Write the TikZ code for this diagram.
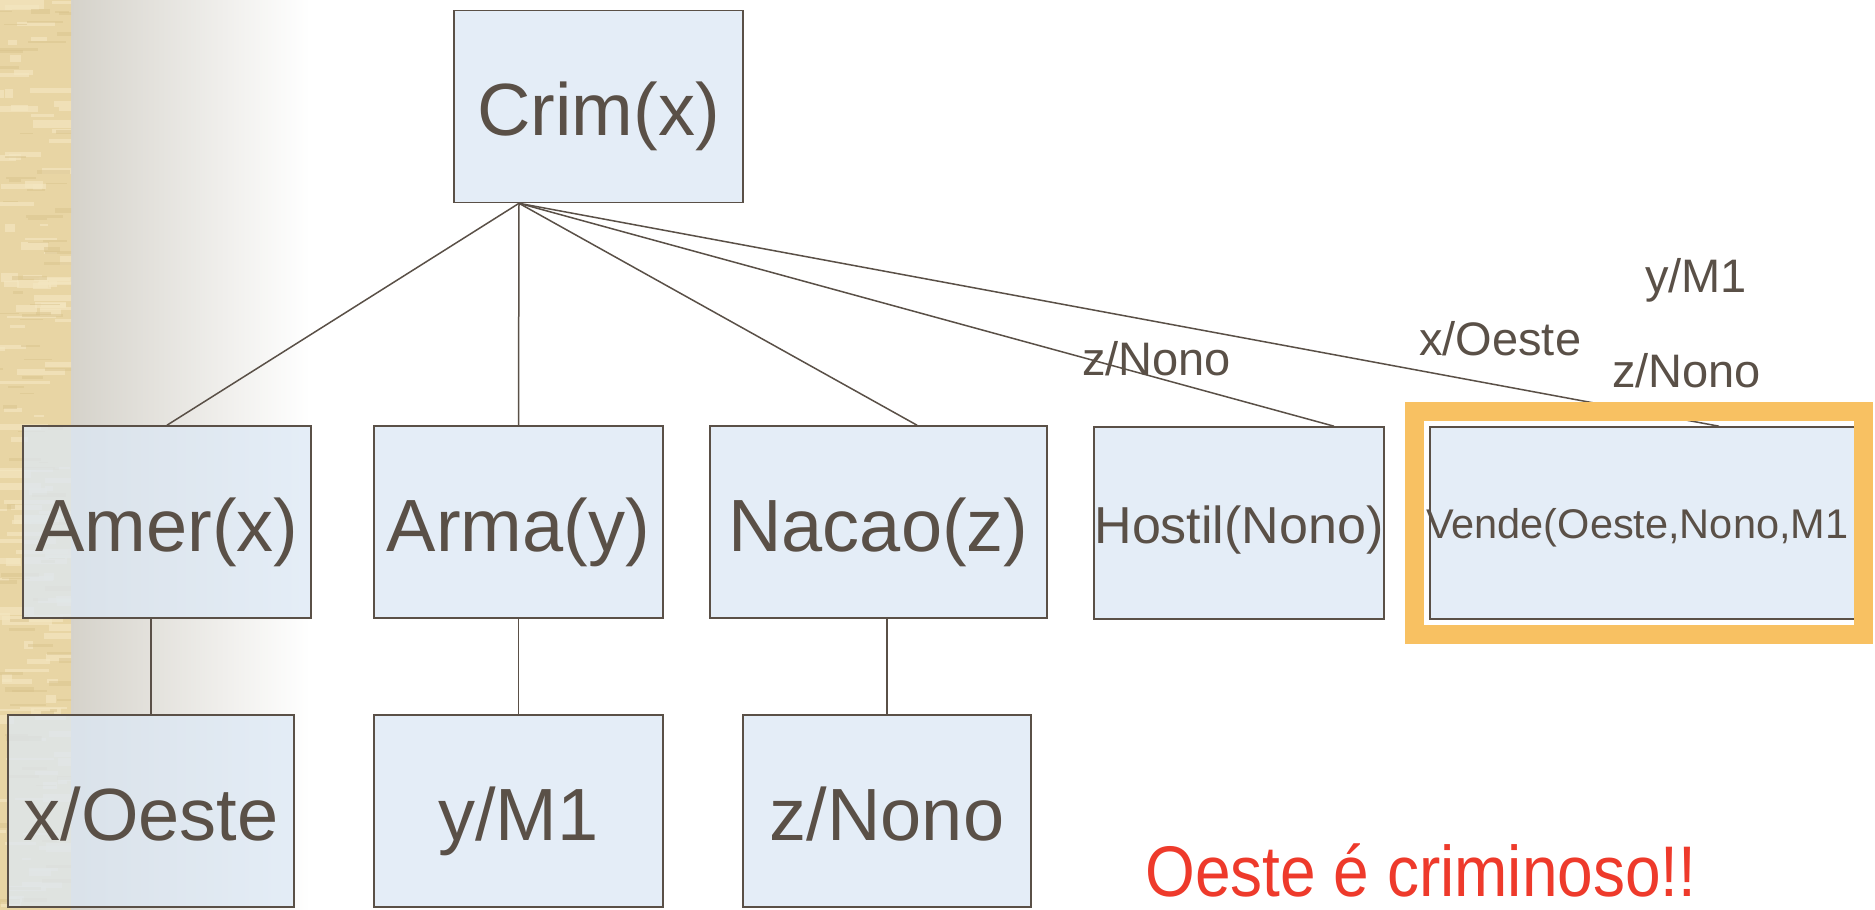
\documentclass[tikz,border=0pt]{standalone}
\usepackage{fontspec}
\usepackage{graphicx}
\setmainfont{Liberation Sans}
\definecolor{ink}{HTML}{5A5047}
\definecolor{boxblue}{HTML}{DCE8F5}
\definecolor{beige}{HTML}{E8D5A4}
\definecolor{beigeL}{HTML}{F4E6C0}
\definecolor{beigeD}{HTML}{D9C48E}
\definecolor{grayL}{HTML}{D5D2CA}
\definecolor{frameor}{HTML}{F8C162}
\definecolor{redtxt}{HTML}{EE3A2B}
\tikzset{
  termbox/.style={draw=ink, line width=1.6pt, fill=boxblue, fill opacity=0.75, text opacity=1,
    text=ink, inner sep=0pt, minimum height=192pt},
  bigtxt/.style={font=\fontsize{74}{80}\selectfont, text height=58pt, text depth=0pt},
  subst/.style={text=ink, inner sep=0pt, anchor=base west, font=\fontsize{47}{52}\selectfont},
  link/.style={draw=ink, line width=1.5pt}
}
\begin{document}
\begin{tikzpicture}[x=1pt,y=-1pt]
\useasboundingbox (0,0) rectangle (1875,910);
% background
\fill[white] (0,0) rectangle (1875,910);
\shade[left color=grayL, right color=white] (71,0) rectangle (310,910);
\fill[beige] (0,0) rectangle (71,910);
\begin{scope}
\clip (0,0) rectangle (71,910);
\pgfmathsetseed{11}
\foreach \i in {1,...,140}{
  \pgfmathsetmacro\yy{rnd*910}
  \pgfmathsetmacro\xx{rnd*71-10}
  \pgfmathsetmacro\ww{8+rnd*45}
  \pgfmathsetmacro\hh{2+rnd*7}
  \fill[beigeL, opacity=0.7] (\xx,\yy) rectangle ++(\ww,\hh);
}
\foreach \i in {1,...,90}{
  \pgfmathsetmacro\yy{rnd*910}
  \pgfmathsetmacro\xx{rnd*71-10}
  \pgfmathsetmacro\ww{6+rnd*35}
  \pgfmathsetmacro\hh{1+rnd*4}
  \fill[beigeD, opacity=0.5] (\xx,\yy) rectangle ++(\ww,\hh);
}
\end{scope}

% frame interior
\fill[white] (1424,421) rectangle (1854,625);

% nodes
\node[termbox, bigtxt, minimum width=289pt] (crim) at (598.5,106.5) {Crim(x)};
\node[termbox, bigtxt, minimum width=288pt] (amer) at (167,522) {Amer(x)};
\node[termbox, bigtxt, minimum width=289pt] (arma) at (518.5,522) {Arma(y)};
\node[termbox, bigtxt, minimum width=337pt] (nacao) at (878.5,522) {Nacao(z)};
\node[termbox, font=\fontsize{52}{58}\selectfont, text height=40pt, text depth=0pt, minimum width=290pt] (hostil) at (1239,523) {Hostil(Nono)};
\node[termbox, bigtxt, minimum width=286pt] (xoeste) at (151,811) {x/Oeste};
\node[termbox, bigtxt, minimum width=289pt] (ym1) at (518.5,811) {y/M1};
\node[termbox, bigtxt, minimum width=288pt] (znono) at (887,811) {z/Nono};

\begin{scope}
\clip (1424,421) rectangle (1854,625);
\node[termbox, minimum width=440pt] (vende) at (1650,523) {};
\node[text=ink, inner sep=0pt, anchor=west, text height=30pt, text depth=0pt, font=\fontsize{41.5}{46}\selectfont] (vendetxt) at (1426,523) {Vende(Oeste,Nono,M1};
\end{scope}

% connectors
\coordinate (root) at ([xshift=-79.5pt]crim.south);
\draw[link] (root) -- (amer.north);
\draw[link] (root) -- (arma.north);
\draw[link] (root) -- ([xshift=38.5pt]nacao.north);
\draw[link] (root) -- ([xshift=95pt]hostil.north);
\draw[link] (root) -- ([xshift=69pt]vende.north);
\draw[link] (xoeste.north |- amer.south) -- (xoeste.north);
\draw[link] (ym1.north |- arma.south) -- (ym1.north);
\draw[link] (znono.north |- nacao.south) -- (znono.north);

% orange highlight frame
\draw[frameor, line width=19pt] (1414.5,411.5) rectangle (1863.5,634.5);

% substitution labels
\node[subst] (l1) at (1082,375) {z/Nono};
\node[subst] (l2) at (1419,355) {x/Oeste};
\node[subst] (l3) at (1645,292) {y/M1};
\node[subst] (l4) at (1612,387) {z/Nono};

% conclusion
\node[text=redtxt, inner sep=0pt, anchor=base west, text depth=0pt, font=\fontsize{64}{70}\selectfont] (concl) at (1145,896) {\scalebox{1}[1.12]{Oeste é criminoso!!}};
\end{tikzpicture}
\end{document}
